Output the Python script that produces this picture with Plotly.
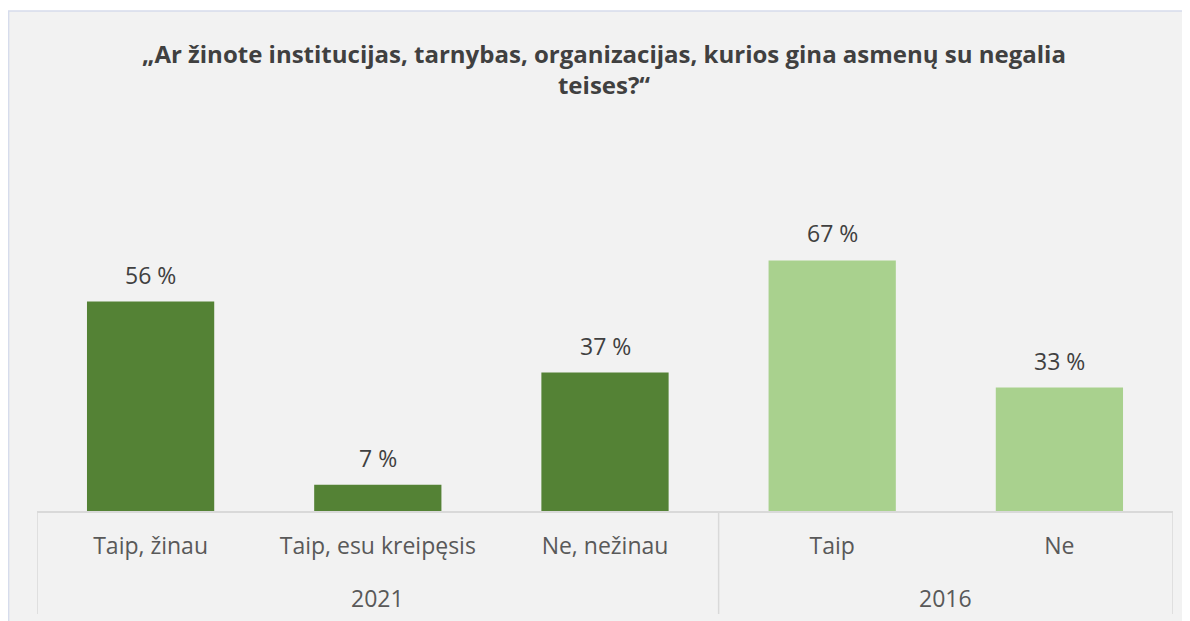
import plotly.graph_objects as go

years = ["2021", "2021", "2021", "2016", "2016"]
answers = ["Taip, žinau", "Taip, esu kreipęsis", "Ne, nežinau", "Taip", "Ne"]
values = [56, 7, 37, 67, 33]
bar_colors = ["#548235", "#548235", "#548235", "#A9D18E", "#A9D18E"]
title_text = "„Ar žinote institucijas, tarnybas, organizacijas, kurios gina asmenų su negalia<br>teises?“"

FONT = "Open Sans"
positions = list(range(len(answers)))

fig = go.Figure()
fig.add_trace(go.Bar(
    x=positions,
    y=values,
    marker=dict(color=bar_colors, line=dict(width=0)),
    hoverinfo="skip",
))

annotations = []
# value labels
for p, v in zip(positions, values):
    annotations.append(dict(
        x=p, y=v, xref="x", yref="y", text=f"{v} %", showarrow=False,
        yanchor="bottom", yshift=9,
        font=dict(family=FONT, size=23, color="#404040"),
    ))

# group labels and dividers
groups = []
for i, yr in enumerate(years):
    if not groups or groups[-1][0] != yr:
        groups.append([yr, i, i])
    else:
        groups[-1][2] = i

shapes = [dict(
    type="rect", xref="paper", yref="paper",
    x0=-0.025, x1=1.05, y0=-0.4, y1=1.3369,
    fillcolor="#F2F2F2", line=dict(color="#D6DCEC", width=1.5),
    layer="below",
)]
div_pos = [groups[0][1] - 0.5] + [g[2] + 0.5 for g in groups]
for d in div_pos:
    shapes.append(dict(
        type="line", xref="x", yref="paper", x0=d, x1=d, y0=-0.2754, y1=0,
        line=dict(color="#D9D9D9", width=1.5),
    ))
for yr, a, b in groups:
    annotations.append(dict(
        x=(a + b) / 2, y=-0.2326, xref="x", yref="paper", text=yr,
        showarrow=False, yanchor="middle",
        font=dict(family=FONT, size=23, color="#595959"),
    ))

fig.update_layout(
    width=1182, height=613,
    margin=dict(l=29, r=17, t=129, b=110),
    paper_bgcolor="#FFFFFF",
    plot_bgcolor="#F2F2F2",
    showlegend=False,
    bargap=0.44,
    title=dict(
        text=title_text,
        x=(604 - 8) / 1182, xanchor="center",
        y=0.911, yanchor="top",
        font=dict(family=FONT, size=24, color="#404040", weight="bold"),
    ),
    shapes=shapes,
    annotations=annotations,
)

fig.update_xaxes(
    range=[-0.5, len(answers) - 0.5],
    tickmode="array", tickvals=positions, ticktext=answers,
    showline=True, linecolor="#D9D9D9", linewidth=1.5,
    showgrid=False, zeroline=False,
    ticks="", ticklabelstandoff=14,
    tickfont=dict(family=FONT, size=23, color="#595959"),
)
fig.update_yaxes(
    range=[0, 100], visible=False, showgrid=False, zeroline=False,
)

fig.write_html("out.html")
